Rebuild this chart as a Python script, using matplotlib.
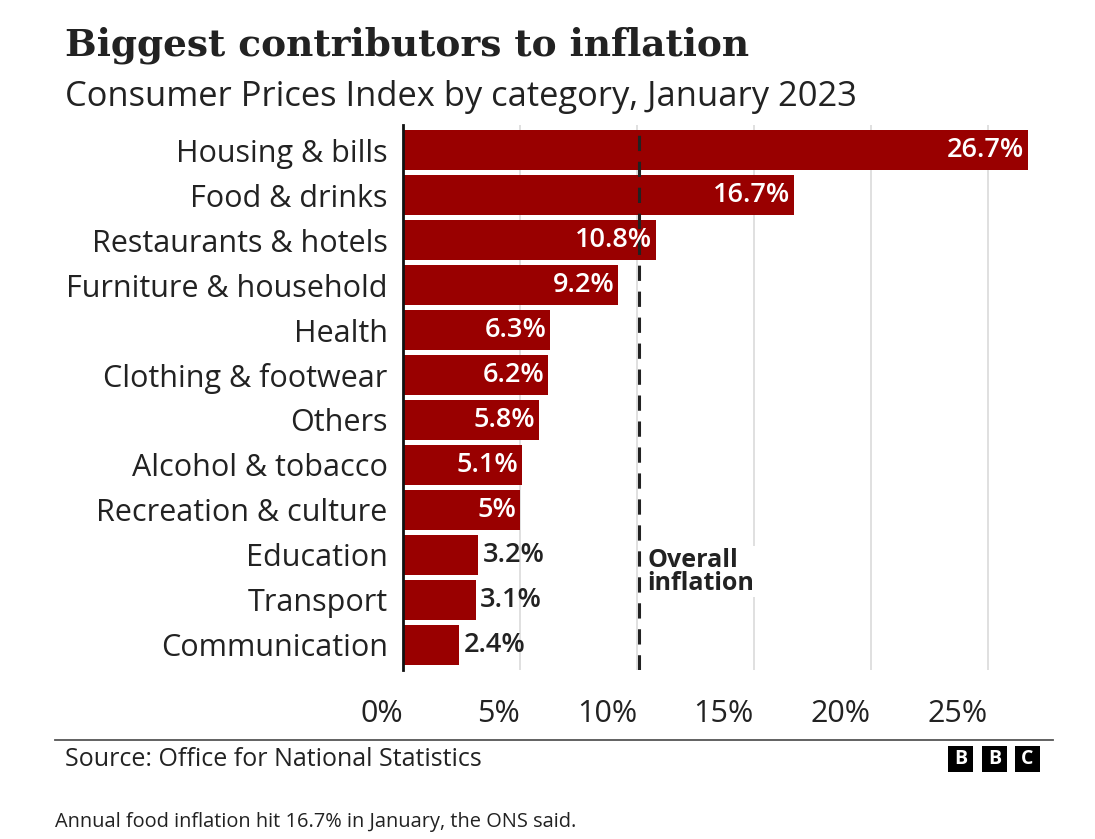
import matplotlib
matplotlib.use("Agg")
import matplotlib.pyplot as plt
from matplotlib.patches import Rectangle

categories = ["Housing & bills", "Food & drinks", "Restaurants & hotels",
              "Furniture & household", "Health", "Clothing & footwear",
              "Others", "Alcohol & tobacco", "Recreation & culture",
              "Education", "Transport", "Communication"]
values = [26.7, 16.7, 10.8, 9.2, 6.3, 6.2, 5.8, 5.1, 5.0, 3.2, 3.1, 2.4]
labels = ["26.7%", "16.7%", "10.8%", "9.2%", "6.3%", "6.2%", "5.8%",
          "5.1%", "5%", "3.2%", "3.1%", "2.4%"]
overall = 10.1
ticks = [0, 5, 10, 15, 20, 25]
tick_labels = ["0%", "5%", "10%", "15%", "20%", "25%"]

plt.rcParams['font.family'] = ['Open Sans', 'DejaVu Sans']
W, H = 1095, 839
fig = plt.figure(figsize=(W / 100, H / 100), dpi=100)

def fx(px):
    return px / W

def fy(py):
    return 1 - py / H

red = "#990000"
dark = "#222222"

ax = fig.add_axes([fx(403), fy(670), fx(1058) - fx(403), fy(125) - fy(670)])
pos = list(range(len(categories)))
ax.barh(pos, values, height=0.89, color=red, zorder=3)
ax.set_xlim(0, 28)
ax.set_ylim(len(categories) - 0.444, -0.556)

ax.set_yticks(pos)
ax.set_yticklabels(categories, fontsize=22, color=dark)
ax.set_xticks(ticks)
ax.set_xticklabels(tick_labels, fontsize=22, color=dark, ha='right')
ax.tick_params(axis='both', length=0)
ax.tick_params(axis='x', pad=21)
ax.tick_params(axis='y', pad=11)

for s in ['top', 'right', 'bottom']:
    ax.spines[s].set_visible(False)
ax.spines['left'].set_linewidth(2)
ax.spines['left'].set_color('#111111')
ax.spines['left'].set_zorder(5)

ax.grid(axis='x', color='#dddddd', linewidth=1.3, zorder=0)
ax.axvline(overall, color='#222222', linewidth=2.2, linestyle=(0, (5, 3.5)), zorder=4)

for p, v, lab in zip(pos, values, labels):
    if v >= 4:
        ax.text(v - 0.17, p, lab, ha='right', va='center', color='white',
                fontsize=19.5, fontweight='semibold', zorder=6)
    else:
        ax.text(v + 0.2, p, lab, ha='left', va='center', color=dark,
                fontsize=19.5, fontweight='semibold', zorder=6)

ax.text(overall + 0.35, 9.37, "Overall\ninflation", ha='left', va='center',
        fontsize=18, fontweight='bold', color=dark, linespacing=0.9, zorder=6,
        bbox=dict(facecolor='white', edgecolor='none', pad=1))

fig.text(fx(65), fy(45), "Biggest contributors to inflation", fontsize=27,
         fontweight='bold', family='DejaVu Serif', color=dark, va='center')
fig.text(fx(65), fy(97), "Consumer Prices Index by category, January 2023",
         fontsize=24.8, color=dark, va='center')

fig.add_artist(plt.Line2D([fx(55), fx(1053)], [fy(740), fy(740)],
                          color='#555555', linewidth=1.3))
fig.text(fx(65), fy(759), "Source: Office for National Statistics",
         fontsize=18, color=dark, va='center')

for x0, letter in zip([948, 982, 1015], "BBC"):
    fig.add_artist(Rectangle((fx(x0), fy(772)), fx(25), fy(746) - fy(772),
                             transform=fig.transFigure, facecolor='black',
                             edgecolor='none'))
    fig.text(fx(x0 + 12.5), fy(759), letter, color='white', fontsize=14,
             fontweight='bold', ha='center', va='center')

fig.text(fx(55), fy(822), "Annual food inflation hit 16.7% in January, the ONS said.",
         fontsize=14.4, color=dark, va='center')

fig.savefig("out.png", dpi=100, facecolor='white')
